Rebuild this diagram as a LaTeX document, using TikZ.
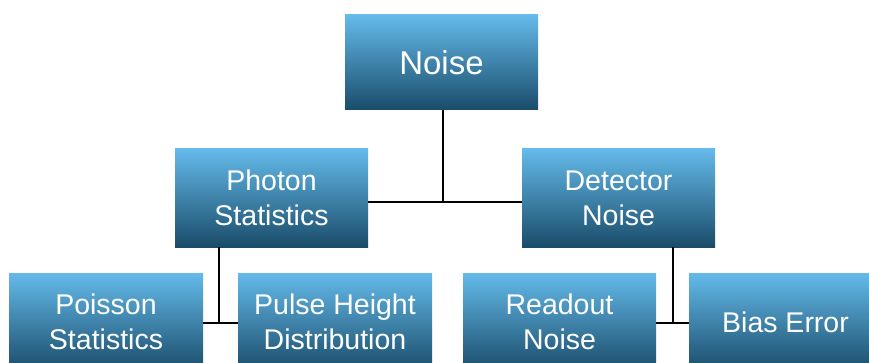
\documentclass[tikz,border=0pt]{standalone}
\usepackage{fontspec}
\setmainfont{Liberation Sans}
\definecolor{boxtop}{HTML}{64BAEA}
\definecolor{boxbot}{HTML}{1A4C6A}
\tikzset{
  box/.style={rectangle, inner sep=0pt, top color=boxtop, bottom color=boxbot,
    draw=none, text=white, align=center, font=\fontsize{28.5}{35}\selectfont},
  link/.style={draw=black, line width=2pt}
}
\begin{document}
\begin{tikzpicture}[x=1pt,y=-1pt]
\useasboundingbox (0,0) rectangle (869,363);
\clip (0,0) rectangle (869,363);
\node[box, minimum width=193pt, minimum height=95pt, font=\fontsize{33}{40}\selectfont] (noise) at (441.5,62.5) {Noise};
\node[box, minimum width=193pt, minimum height=98pt] (photon) at (271.5,198) {Photon\\Statistics};
\node[box, minimum width=193pt, minimum height=98pt] (detector) at (618.5,198) {Detector\\Noise};
\node[box, minimum width=194pt, minimum height=98pt] (poisson) at (106,322) {Poisson\\Statistics};
\node[box, minimum width=194pt, minimum height=98pt] (pulse) at (335,322) {Pulse Height\\Distribution};
\node[box, minimum width=193pt, minimum height=98pt] (readout) at (559.5,322) {Readout\\Noise};
\node[box, minimum width=193pt, minimum height=98pt] (bias) at (785.5,322) {Bias Error};
\coordinate (j1) at (443,202);
\coordinate (j2) at (219,323);
\coordinate (j3) at (673,323);
\draw[link] (noise.south -| j1) -- (j1);
\draw[link] (photon.east |- j1) -- (detector.west |- j1);
\draw[link] (photon.south -| j2) -- (j2);
\draw[link] (poisson.east |- j2) -- (pulse.west |- j2);
\draw[link] (detector.south -| j3) -- (j3);
\draw[link] (readout.east |- j3) -- (bias.west |- j3);
\end{tikzpicture}
\end{document}
